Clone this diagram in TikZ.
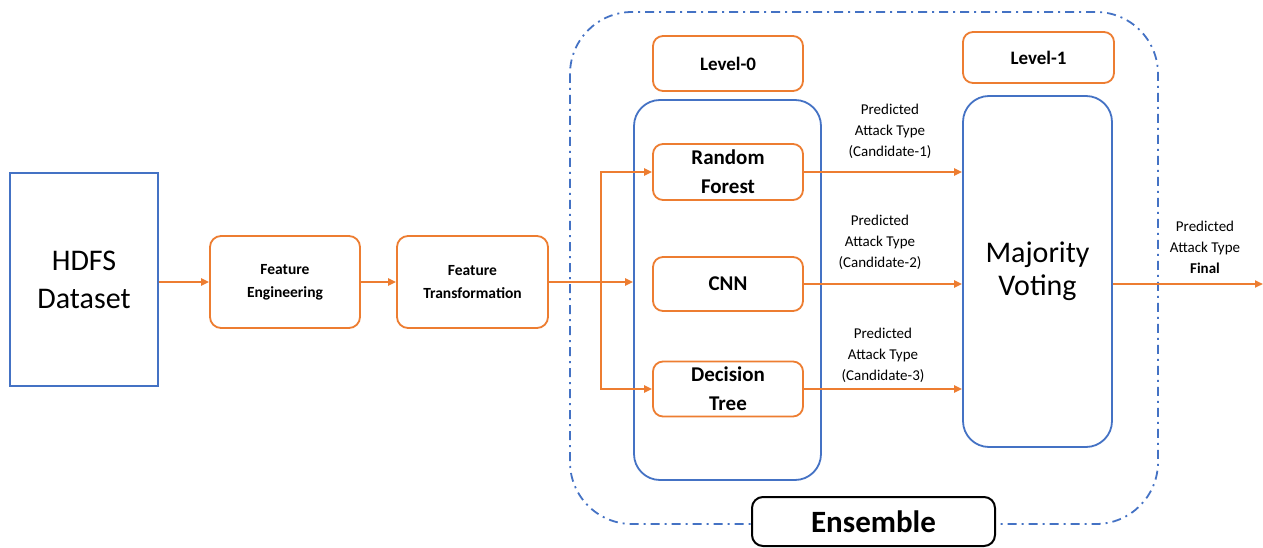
\documentclass[tikz,border=0pt]{standalone}
\usepackage{fontspec}
\setmainfont{Carlito}
\usetikzlibrary{arrows.meta}
\definecolor{ora}{RGB}{237,125,49}
\definecolor{blu}{RGB}{68,114,196}
\begin{document}
\begin{tikzpicture}[x=1pt,y=-1pt,
  obox/.style={draw=ora,line width=1.8pt,rounded corners=11pt,fill=white,align=center,inner sep=0pt,font=\bfseries},
  arr/.style={draw=ora,line width=2pt,-{Triangle[length=8pt,width=7pt]}},
  lab/.style={align=center,font=\fontsize{15}{21}\selectfont,inner sep=0pt}]
\useasboundingbox (0,0) rectangle (1263,548);
% ensemble outline
\draw[blu,line width=1.8pt,dash pattern=on 9pt off 5pt on 2pt off 5pt,rounded corners=62pt] (570,12) rectangle (1158,524);
% containers
\node[draw=blu,line width=1.8pt,rounded corners=26pt,minimum width=187pt,minimum height=380pt,inner sep=0pt] (L0c) at (727.5,290) {};
\node[draw=blu,line width=1.8pt,rounded corners=26pt,minimum width=149pt,minimum height=351pt,inner sep=0pt,align=center,font=\fontsize{30}{33}\selectfont] (MV) at (1037.5,271.5) {Majority\\Voting};
% HDFS
\node[draw=blu,line width=1.8pt,minimum width=148pt,minimum height=213pt,inner sep=0pt,align=center,font=\fontsize{30}{38}\selectfont] (HD) at (84,279.5) {HDFS\\Dataset};
% pipeline
\node[obox,minimum width=150pt,minimum height=92pt,font=\bfseries\fontsize{15.5}{23}\selectfont] (FE) at (285,282) {Feature\\Engineering};
\node[obox,minimum width=151pt,minimum height=92pt,font=\bfseries\fontsize{15.5}{23}\selectfont] (FT) at (472.5,282) {Feature\\Transformation};
% level labels
\node[obox,rounded corners=10pt,minimum width=150pt,minimum height=55pt,font=\bfseries\fontsize{19}{22}\selectfont] (LV0) at (728,63.5) {Level-0};
\node[obox,rounded corners=10pt,minimum width=151pt,minimum height=51pt,font=\bfseries\fontsize{19}{22}\selectfont] (LV1) at (1038.5,57.5) {Level-1};
% models
\node[obox,rounded corners=10pt,minimum width=150pt,minimum height=56pt,font=\bfseries\fontsize{21}{29}\selectfont] (RF) at (728,172) {Random\\Forest};
\node[obox,rounded corners=10pt,minimum width=150pt,minimum height=54pt,font=\bfseries\fontsize{21}{29}\selectfont] (CNN) at (728,284) {CNN};
\node[obox,rounded corners=10pt,minimum width=150pt,minimum height=55pt,font=\bfseries\fontsize{21}{29}\selectfont] (DT) at (728,389) {Decision\\Tree};
% ensemble label
\node[draw=black,line width=2pt,rounded corners=11pt,fill=white,minimum width=243pt,minimum height=49pt,inner sep=0pt,font=\bfseries\fontsize{31}{34}\selectfont] (EN) at (873.5,521.5) {Ensemble};
% arrows
\draw[arr] (HD.east |- FE.west) -- (FE.west);
\draw[arr] (FE.east) -- (FT.west);
\coordinate (br) at (601,282);
\draw[arr] (FT.east) -- (FT.east -| L0c.west);
\draw[arr] (br) |- (RF.west);
\draw[arr] (br) |- (DT.west);
\draw[arr] (RF.east) -- (RF.east -| MV.west);
\draw[arr] (CNN.east) -- (CNN.east -| MV.west);
\draw[arr] (DT.east) -- (DT.east -| MV.west);
\coordinate (out) at (1263,284);
\draw[arr] (MV.east |- CNN.east) -- (out);
% labels
\node[lab] (c1) at (890,131) {Predicted\\Attack Type\\(Candidate-1)};
\node[lab] (c2) at (880,242.5) {Predicted\\Attack Type\\(Candidate-2)};
\node[lab] (c3) at (883,355) {Predicted\\Attack Type\\(Candidate-3)};
\node[lab] (cf) at (1205,247) {Predicted\\Attack Type\\\textbf{Final}};
\end{tikzpicture}
\end{document}
